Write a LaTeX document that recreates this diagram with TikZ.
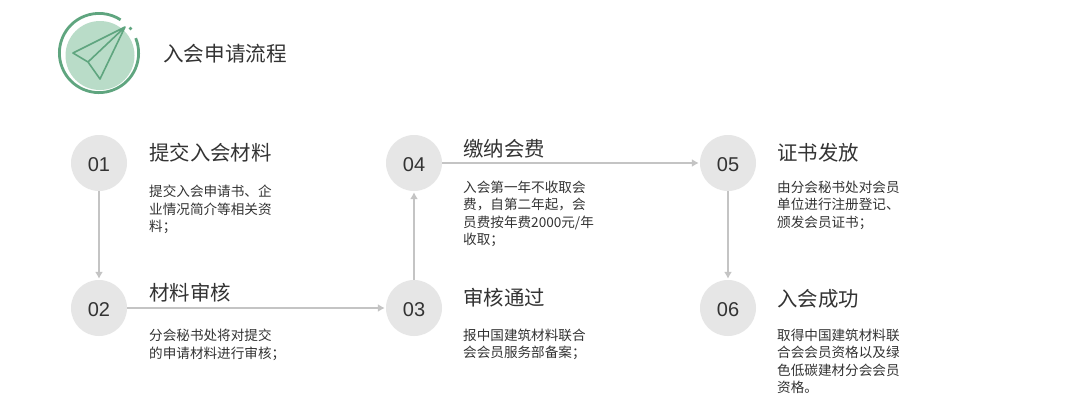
\documentclass[tikz,border=0pt]{standalone}
\usepackage{fontspec}
\setmainfont{Noto Sans CJK SC}[Scale=1]
\newfontfamily\numfont{Liberation Sans}
\usetikzlibrary{arrows.meta}
\definecolor{ringg}{HTML}{5FA57F}
\definecolor{discg}{HTML}{B9DCC8}
\definecolor{circ}{HTML}{E6E6E6}
\definecolor{conn}{HTML}{C4C4C4}
\definecolor{txt}{HTML}{333333}
\tikzset{
  x=1pt,y=-1pt,
  numcirc/.style={circle,fill=circ,minimum size=56pt,inner sep=0pt,text=txt,text height=16.3pt,text depth=0pt,font=\numfont\fontsize{20}{20}\selectfont},
  headtxt/.style={anchor=west,inner sep=0pt,text=txt,font=\fontsize{20.4}{24}\selectfont},
  bodytxt/.style={anchor=north west,inner sep=0pt,align=left,text=txt,font=\fontsize{13.6}{17.3}\selectfont},
  link/.style={draw=conn,line width=2.4pt,-{Latex[length=7pt,width=8pt]},shorten >=1pt},
  planeline/.style={draw=ringg,line width=1.6pt,line join=round}
}
\begin{document}
\begin{tikzpicture}
\useasboundingbox (0,0) rectangle (1080,402);
\fill[white] (0,0) rectangle (1080,402);
% icon
\fill[discg] (100,55.5) circle[radius=34.5];
\draw[ringg,line width=2.8pt] (99,53) ++(-22:39.6) arc[start angle=-22,end angle=303,radius=39.6];
\fill[ringg] (130.5,28.5) circle[radius=1.8];
\coordinate (tip) at (125,27);
\coordinate (lft) at (73,53);
\coordinate (fold) at (88,62);
\coordinate (bot) at (100,79);
\draw[planeline] (fold) -- (lft) -- (tip) -- (bot) -- (fold) -- (tip);
\node[anchor=west,inner sep=0pt,text=txt,font=\fontsize{20.6}{24}\selectfont] (title) at (163,54) {入会申请流程};
% circles
\node[numcirc] (c1) at (99,163) {01};
\node[numcirc] (c2) at (99,308) {02};
\node[numcirc] (c3) at (414,308) {03};
\node[numcirc] (c4) at (414,163) {04};
\node[numcirc] (c5) at (728,163) {05};
\node[numcirc] (c6) at (728,308) {06};
% connectors
\draw[link] (c1) -- (c2);
\draw[link] (c2) -- (c3);
\draw[link] (c3) -- (c4);
\draw[link] (c4) -- (c5);
\draw[link] (c5) -- (c6);
% headings
\node[headtxt] (h1) at (149,153) {提交入会材料};
\node[headtxt] (h2) at (149,293) {材料审核};
\node[headtxt] (h3) at (463,298) {审核通过};
\node[headtxt] (h4) at (463,149) {缴纳会费};
\node[headtxt] (h5) at (777,153) {证书发放};
\node[headtxt] (h6) at (777,299) {入会成功};
% bodies
\node[bodytxt] (b1) at (149,185) {提交入会申请书、企\\业情况简介等相关资\\料；};
\node[bodytxt] (b2) at (149,329) {分会秘书处将对提交\\的申请材料进行审核；};
\node[bodytxt] (b3) at (463,329) {报中国建筑材料联合\\会会员服务部备案；};
\node[bodytxt] (b4) at (463,181) {入会第一年不收取会\\费，自第二年起，会\\员费按年费2000元/年\\收取；};
\node[bodytxt] (b5) at (777,181) {由分会秘书处对会员\\单位进行注册登记、\\颁发会员证书；};
\node[bodytxt] (b6) at (777,329) {取得中国建筑材料联\\合会会员资格以及绿\\色低碳建材分会会员\\资格。};
\end{tikzpicture}
\end{document}
